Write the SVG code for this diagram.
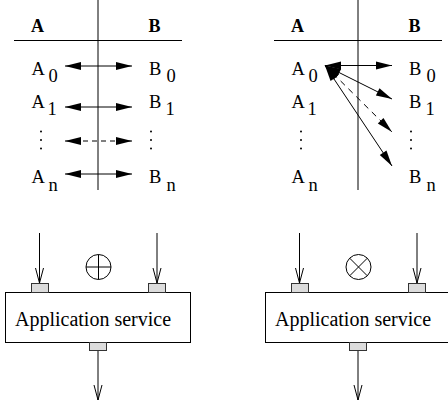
<svg xmlns="http://www.w3.org/2000/svg" width="448" height="408" viewBox="0 0 448 408" font-family="Liberation Serif, serif">
<style>
.ln{stroke:#000;stroke-width:1;fill:none}
.dash{stroke-dasharray:5,4}
.dash2{stroke-dasharray:6,5}
.hd{font-family:'Liberation Serif',serif;font-weight:bold;font-size:18px;fill:#000}
.t{font-family:'Liberation Serif',serif;font-size:18.5px;fill:#000}
.big{font-family:'Liberation Serif',serif;font-size:20px;fill:#000}
.port{fill:#dcdcdc;stroke:#333;stroke-width:1}
.box{fill:#fff;stroke:#000;stroke-width:1}
.dbl{marker-start:url(#fh);marker-end:url(#fh)}
.open{marker-end:url(#oh)}
</style>
<defs>
<marker id="fh" markerUnits="userSpaceOnUse" markerWidth="17" markerHeight="9" refX="16" refY="4.5" orient="auto-start-reverse" overflow="visible">
<path d="M0,0.5 L16,4.5 L0,8.5 z" fill="#000" stroke="none"/>
</marker>
<marker id="oh" markerUnits="userSpaceOnUse" markerWidth="17" markerHeight="10" refX="15" refY="5" orient="auto" overflow="visible">
<path d="M0,1 L15,5 L0,9" fill="none" stroke="#000" stroke-width="1"/>
</marker>
<g id="vdots"><circle cx="0" cy="0" r="1"/><circle cx="0" cy="8.5" r="1"/><circle cx="0" cy="17" r="1"/></g>
</defs>

<g id="table-left">
<line class="ln" x1="98" y1="0" x2="98" y2="190"/>
<line class="ln" x1="14" y1="40.5" x2="182" y2="40.5"/>
<text class="hd" x="31" y="31.5">A</text>
<text class="hd" x="148.5" y="31.5">B</text>
<text class="t" x="31.5" y="75">A</text><text class="t" x="48.5" y="82">0</text>
<text class="t" x="31.5" y="108">A</text><text class="t" x="47.5" y="115">1</text>
<text class="t" x="31.5" y="183">A</text><text class="t" x="48.5" y="191">n</text>
<text class="t" x="149" y="75">B</text><text class="t" x="166.5" y="82">0</text>
<text class="t" x="149" y="108">B</text><text class="t" x="165.5" y="115">1</text>
<text class="t" x="149" y="183">B</text><text class="t" x="166.5" y="191">n</text>
<use href="#vdots" x="41" y="131.5"/>
<use href="#vdots" x="151" y="131.5"/>
</g>

<g id="table-right">
<line class="ln" x1="358" y1="0" x2="358" y2="190"/>
<line class="ln" x1="274" y1="40.5" x2="442" y2="40.5"/>
<text class="hd" x="291" y="31.5">A</text>
<text class="hd" x="408.5" y="31.5">B</text>
<text class="t" x="291.5" y="75">A</text><text class="t" x="308.5" y="82">0</text>
<text class="t" x="291.5" y="108">A</text><text class="t" x="307.5" y="115">1</text>
<text class="t" x="291.5" y="183">A</text><text class="t" x="308.5" y="191">n</text>
<text class="t" x="409" y="75">B</text><text class="t" x="426.5" y="82">0</text>
<text class="t" x="409" y="108">B</text><text class="t" x="425.5" y="115">1</text>
<text class="t" x="409" y="183">B</text><text class="t" x="426.5" y="191">n</text>
<use href="#vdots" x="301" y="131.5"/>
<use href="#vdots" x="411" y="131.5"/>
</g>

<g id="service-left">
<rect class="box" x="5.5" y="292.5" width="185" height="50"/>
<rect class="port" x="31.5" y="283.5" width="17" height="9"/>
<rect class="port" x="148.5" y="283.5" width="17" height="9"/>
<rect class="port" x="89.5" y="342.5" width="17" height="8"/>
<text class="big" x="15" y="326">Application service</text>
</g>
<g id="oplus">
<circle class="ln" cx="98.5" cy="267" r="12.5"/>
<line class="ln" x1="86" y1="267" x2="111" y2="267"/>
<line class="ln" x1="98.5" y1="254.5" x2="98.5" y2="279.5"/>
</g>

<g id="service-right">
<rect class="box" x="265.5" y="292.5" width="185" height="50"/>
<rect class="port" x="291.5" y="283.5" width="17" height="9"/>
<rect class="port" x="408.5" y="283.5" width="17" height="9"/>
<rect class="port" x="349.5" y="342.5" width="17" height="8"/>
<text class="big" x="275" y="326">Application service</text>
</g>
<g id="otimes">
<circle class="ln" cx="358.5" cy="267" r="12.5"/>
<line class="ln" x1="349.66" y1="258.16" x2="367.34" y2="275.84"/>
<line class="ln" x1="349.66" y1="275.84" x2="367.34" y2="258.16"/>
</g>

<g id="connectors">
<line class="ln dbl" x1="65" y1="66" x2="132" y2="66"/>
<line class="ln dbl" x1="65" y1="107" x2="132" y2="107"/>
<line class="ln dbl dash" x1="65" y1="141" x2="132" y2="141"/>
<line class="ln dbl" x1="65" y1="174" x2="132" y2="174"/>

<line class="ln dbl" x1="325" y1="65.5" x2="392" y2="65.5"/>
<line class="ln dbl" x1="325" y1="65.5" x2="392" y2="99"/>
<line class="ln dbl dash2" x1="325" y1="65.5" x2="392" y2="132"/>
<line class="ln dbl" x1="325" y1="65.5" x2="392" y2="166"/>

<line class="ln open" x1="39.5" y1="233" x2="39.5" y2="283"/>
<line class="ln open" x1="157" y1="233" x2="157" y2="283"/>
<line class="ln open" x1="98" y1="351" x2="98" y2="400"/>
<line class="ln open" x1="299.5" y1="233" x2="299.5" y2="283"/>
<line class="ln open" x1="417" y1="233" x2="417" y2="283"/>
<line class="ln open" x1="358" y1="351" x2="358" y2="400"/>
</g>
</svg>
